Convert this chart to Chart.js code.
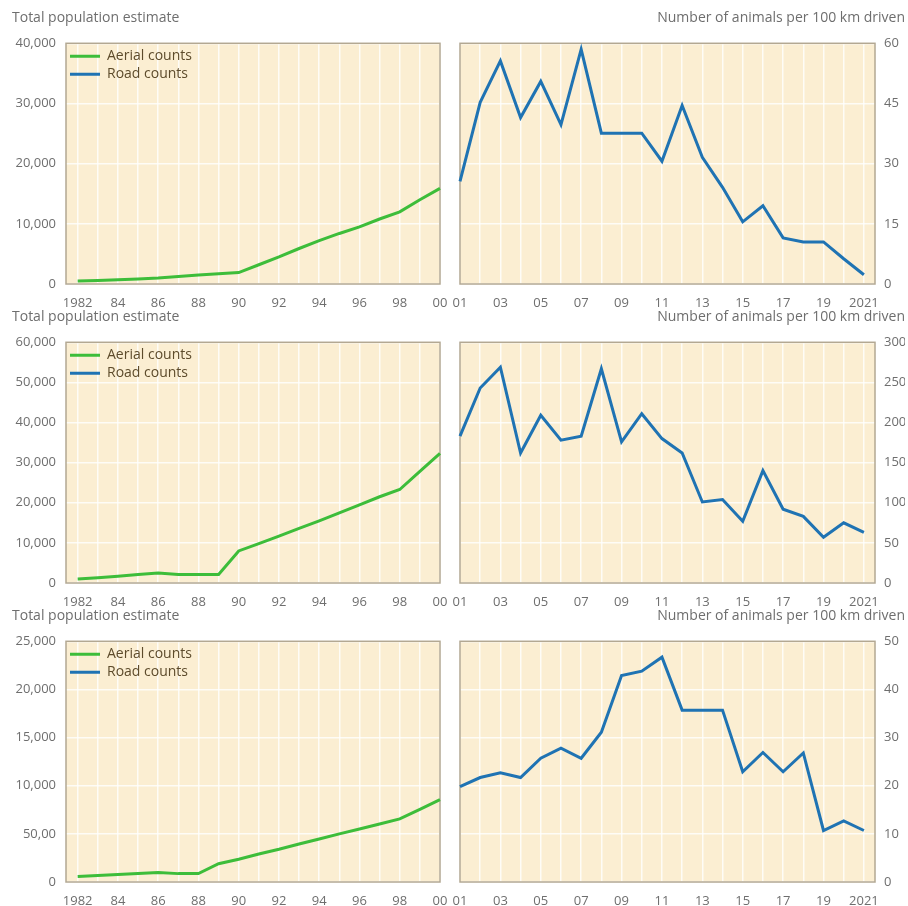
<!DOCTYPE html>
<html>
<head>
<meta charset="utf-8">
<script src="https://cdn.jsdelivr.net/npm/chart.js@4.4.0/dist/chart.umd.min.js"></script>
<style>
  body { margin: 0; width: 908px; height: 906px; overflow: hidden; background: #fff; position: relative; }
  canvas { position: absolute; }
</style>
</head>
<body>
<canvas id="popA" width="450" height="308" style="left:0;top:0"></canvas>
<canvas id="roadA" width="458" height="308" style="left:450px;top:0"></canvas>
<canvas id="popB" width="450" height="308" style="left:0;top:299px"></canvas>
<canvas id="roadB" width="458" height="308" style="left:450px;top:299px"></canvas>
<canvas id="popC" width="450" height="308" style="left:0;top:598px"></canvas>
<canvas id="roadC" width="458" height="308" style="left:450px;top:598px"></canvas>
<script>
// aerial counts, 1982-2000
const aerialYears = [1982, 1983, 1984, 1985, 1986, 1987, 1988, 1989, 1990, 1991, 1992, 1993, 1994, 1995, 1996, 1997, 1998, 1999, 2000];
const aerialA = [500, 600, 700, 850, 1000, 1250, 1500, 1700, 1900, 3200, 4500, 5900, 7200, 8400, 9500, 10800, 12000, 14000, 15900];
const aerialB = [1000, 1300, 1700, 2100, 2500, 2100, 2100, 2100, 8000, 9800, 11700, 13600, 15500, 17500, 19500, 21500, 23300, 27800, 32300];
const aerialC = [560, 670, 770, 880, 980, 870, 870, 1900, 2370, 2900, 3400, 3950, 4470, 5000, 5500, 6030, 6560, 7550, 8550];
const aerialYearLabels = ['1982', '84', '86', '88', '90', '92', '94', '96', '98', '00'];

// road counts per 100 km, 2001-2021
const roadYears = [2001, 2002, 2003, 2004, 2005, 2006, 2007, 2008, 2009, 2010, 2011, 2012, 2013, 2014, 2015, 2016, 2017, 2018, 2019, 2020, 2021];
const roadA = [25.6, 45.3, 55.6, 41.5, 50.5, 39.7, 58.5, 37.6, 37.6, 37.6, 30.6, 44.5, 31.6, 24.1, 15.5, 19.5, 11.5, 10.5, 10.5, 6.3, 2.3];
const roadB = [183, 243, 269, 162, 209, 178, 183, 267, 176, 211, 180, 162, 101, 104, 77, 140, 92, 83, 57, 75, 63];
const roadC = [19.8, 21.7, 22.7, 21.7, 25.7, 27.8, 25.7, 31.1, 42.9, 43.8, 46.7, 35.7, 35.7, 35.7, 22.9, 26.9, 22.9, 26.8, 10.7, 12.7, 10.7];
const roadYearLabels = ['01', '03', '05', '07', '09', '11', '13', '15', '17', '19', '2021'];

// y tick labels, bottom to top
const popTicksA = ['0', '10,000', '20,000', '30,000', '40,000'];
const popTicksB = ['0', '10,000', '20,000', '30,000', '40,000', '50,000', '60,000'];
const popTicksC = ['0', '50,00', '10,000', '15,000', '20,000', '25,000'];
const roadTicksA = ['0', '15', '30', '45', '60'];
const roadTicksB = ['0', '50', '100', '150', '200', '250', '300'];
const roadTicksC = ['0', '10', '20', '30', '40', '50'];

const GREEN = '#3dbd3a';
const BLUE = '#1f73b3';
const TEXT = '#6e6e6e';

Chart.defaults.font.family = "'Open Sans', sans-serif";
Chart.defaults.font.size = 13;
Chart.defaults.color = TEXT;

const panelBox = {
  id: 'panelBox',
  afterLayout(chart) {
    // the chartArea legend comes back with top = 0, move it inside the plot
    const lg = chart.legend;
    if (lg && lg.options.display) {
      const dy = chart.chartArea.top + 2 - lg.top;
      lg.top += dy;
      lg.bottom += dy;
    }
  },
  beforeDraw(chart) {
    const a = chart.chartArea;
    const ctx = chart.ctx;
    ctx.save();
    ctx.fillStyle = '#fbeed2';
    ctx.fillRect(a.left, a.top, a.right - a.left, a.bottom - a.top);
    ctx.restore();
  },
  beforeDatasetsDraw(chart) {
    const a = chart.chartArea;
    const ctx = chart.ctx;
    ctx.save();
    ctx.strokeStyle = '#b3a892';
    ctx.lineWidth = 1.5;
    ctx.strokeRect(a.left, a.top, a.right - a.left, a.bottom - a.top);
    ctx.restore();
  }
};

const gridStyle = { color: 'rgba(255,255,255,0.8)', lineWidth: 1.5, drawTicks: false };

function points(xs, ys) {
  return xs.map((x, i) => ({ x: x, y: ys[i] }));
}

// x axis: fixed height, no extra room for the edge labels
function fitX(s) {
  s.height = 24;
  s.paddingLeft = 0;
  s.paddingRight = 0;
}

function popChart(id, values, tickLabels, max, step) {
  new Chart(document.getElementById(id), {
    type: 'line',
    data: {
      datasets: [
        { label: 'Aerial counts', data: points(aerialYears, values), borderColor: GREEN, borderWidth: 3, pointRadius: 0, clip: false },
        { label: 'Road counts', data: [], borderColor: BLUE, borderWidth: 3, pointRadius: 0 }
      ]
    },
    options: {
      responsive: false,
      animation: false,
      layout: { padding: { left: 12, right: 10, top: 0, bottom: 0 } },
      plugins: {
        title: { display: true, text: 'Total population estimate', align: 'start', color: TEXT, font: { size: 14, weight: 'normal' }, padding: { top: 10, bottom: 16.5 } },
        legend: {
          position: 'chartArea',
          align: 'start',
          onClick: null,
          labels: {
            boxWidth: 30, boxHeight: 3, padding: 4, color: '#5d4b2b', font: { size: 14 },
            generateLabels: chart => chart.data.datasets.map((d, i) => ({
              text: d.label, fillStyle: d.borderColor, strokeStyle: d.borderColor, lineWidth: 0, hidden: false, datasetIndex: i, fontColor: '#5d4b2b'
            }))
          }
        },
        tooltip: { enabled: false }
      },
      scales: {
        x: {
          type: 'linear', min: 1981.42, max: 2000,
          afterBuildTicks: s => { s.ticks = aerialYears.map(v => ({ value: v })); },
          afterFit: fitX,
          grid: gridStyle, border: { display: false },
          ticks: { autoSkip: false, maxRotation: 0, padding: 11, color: TEXT, callback: (v, i) => i % 2 === 0 ? aerialYearLabels[i / 2] : '' }
        },
        y: {
          min: 0, max: max,
          afterBuildTicks: s => { s.ticks = tickLabels.map((t, i) => ({ value: i * step })); },
          afterFit: s => { s.width = 54; },
          grid: gridStyle, border: { display: false },
          ticks: { padding: 10, color: TEXT, callback: (v, i) => tickLabels[i] }
        }
      }
    },
    plugins: [panelBox]
  });
}

function roadChart(id, values, tickLabels, max, step) {
  new Chart(document.getElementById(id), {
    type: 'line',
    data: {
      datasets: [
        { label: 'Road counts', data: points(roadYears, values), borderColor: BLUE, borderWidth: 3, pointRadius: 0, clip: false }
      ]
    },
    options: {
      responsive: false,
      animation: false,
      layout: { padding: { left: 10, right: 3, top: 0, bottom: 0 } },
      plugins: {
        title: { display: true, text: 'Number of animals per 100 km driven', align: 'end', color: TEXT, font: { size: 14, weight: 'normal' }, padding: { top: 10, bottom: 16.5 } },
        legend: { display: false },
        tooltip: { enabled: false }
      },
      scales: {
        x: {
          type: 'linear', min: 2001, max: 2021.55,
          afterBuildTicks: s => { s.ticks = roadYears.map(v => ({ value: v })); },
          afterFit: fitX,
          grid: gridStyle, border: { display: false },
          ticks: { autoSkip: false, maxRotation: 0, padding: 11, color: TEXT, callback: (v, i) => i % 2 === 0 ? roadYearLabels[i / 2] : '' }
        },
        y: {
          position: 'right',
          min: 0, max: max,
          afterBuildTicks: s => { s.ticks = tickLabels.map((t, i) => ({ value: i * step })); },
          afterFit: s => { s.width = 30; },
          grid: gridStyle, border: { display: false },
          ticks: { padding: 9, color: TEXT, callback: (v, i) => tickLabels[i] }
        }
      }
    },
    plugins: [panelBox]
  });
}

popChart('popA', aerialA, popTicksA, 40000, 10000);
roadChart('roadA', roadA, roadTicksA, 60, 15);
popChart('popB', aerialB, popTicksB, 60000, 10000);
roadChart('roadB', roadB, roadTicksB, 300, 50);
popChart('popC', aerialC, popTicksC, 25000, 5000);
roadChart('roadC', roadC, roadTicksC, 50, 10);
</script>
</body>
</html>
